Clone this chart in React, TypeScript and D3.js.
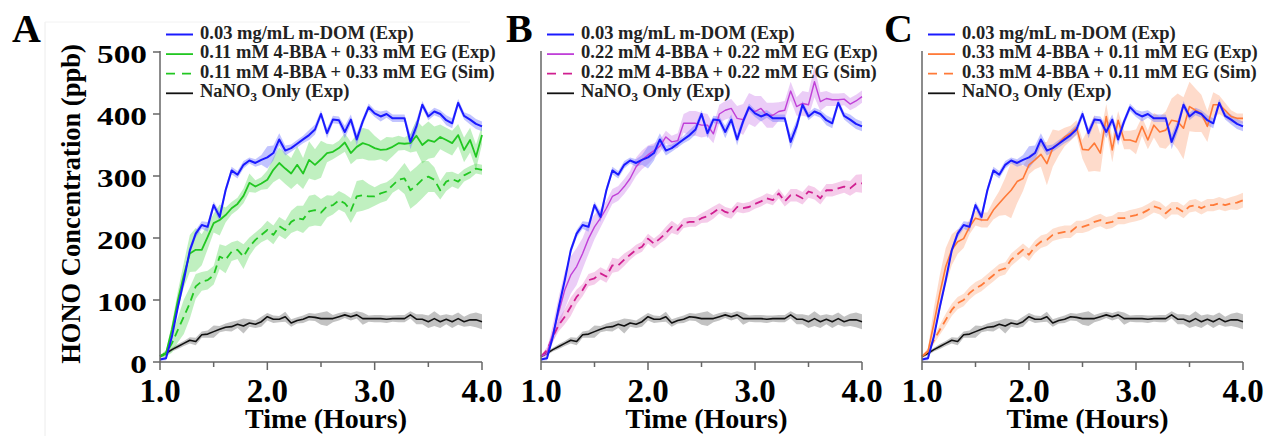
import React from "react";
import * as d3 from "d3";

// Sampling times (hours), one reading every 200 s
const TIME = [
  1.0, 1.056, 1.111, 1.167, 1.222, 1.278, 1.333, 1.389, 1.444, 1.5, 1.556,
  1.611, 1.667, 1.722, 1.778, 1.833, 1.889, 1.944, 2.0, 2.056, 2.111, 2.167,
  2.222, 2.278, 2.333, 2.389, 2.444, 2.5, 2.556, 2.611, 2.667, 2.722, 2.778,
  2.833, 2.889, 2.944, 3.0, 3.056, 3.111, 3.167, 3.222, 3.278, 3.333, 3.389,
  3.444, 3.5, 3.556, 3.611, 3.667, 3.722, 3.778, 3.833, 3.889, 3.944, 4.0,
];

// 0.03 mg/mL m-DOM (Exp)
const DOM = [
  4, 6, 41, 89, 132, 180, 207, 221, 218, 253, 234, 277, 309, 302, 318, 325,
  321, 326, 330, 337, 359, 341, 345, 352, 359, 366, 375, 400, 369, 391, 390,
  371, 391, 359, 388, 411, 401, 396, 400, 393, 393, 393, 355, 380, 415, 396,
  404, 400, 390, 385, 418, 397, 391, 384, 380,
];
const DOM_ERR = [
  2, 3, 4, 5, 5, 6, 6, 6, 8, 6, 8, 6, 6, 6, 6, 5, 6, 8, 18, 12, 10, 8, 6, 6,
  6, 8, 8, 6, 8, 6, 6, 10, 8, 10, 6, 6, 6, 8, 6, 6, 6, 6, 12, 10, 6, 6, 6, 6,
  8, 8, 6, 6, 8, 8, 8,
];

// NaNO3 only (Exp)
const NANO3 = [
  9, 14, 20, 25, 30, 35, 33, 44, 45, 49, 53, 56, 57, 61, 58, 63, 61, 65, 73,
  69, 69, 73, 63, 67, 69, 73, 72, 70, 70, 70, 73, 76, 73, 76, 70, 70, 70, 70,
  69, 70, 70, 70, 76, 69, 69, 65, 70, 65, 69, 65, 70, 65, 68, 68, 65,
];
const NANO3_ERR = [
  2, 3, 3, 4, 4, 5, 6, 5, 6, 10, 5, 6, 8, 6, 12, 6, 6, 8, 6, 6, 5, 8, 6, 5,
  6, 6, 6, 10, 12, 6, 6, 5, 6, 6, 10, 5, 6, 6, 6, 5, 6, 6, 6, 8, 8, 10, 12,
  10, 8, 10, 10, 8, 10, 12, 12,
];

// 0.11 mM 4-BBA + 0.33 mM EG
const BBA11_EXP = [
  9, 14, 52, 100, 140, 175, 181, 181, 202, 224, 229, 237, 248, 255, 268, 289,
  283, 288, 294, 310, 321, 312, 304, 318, 304, 326, 318, 327, 337, 339, 345,
  354, 337, 347, 353, 350, 345, 342, 343, 347, 353, 352, 353, 365, 350, 358,
  355, 363, 358, 353, 366, 342, 358, 331, 366,
];
const BBA11_EXP_ERR = [
  2, 4, 10, 15, 20, 30, 35, 25, 20, 15, 25, 12, 10, 10, 12, 15, 10, 10, 15,
  20, 25, 25, 25, 30, 25, 30, 25, 30, 15, 12, 12, 15, 18, 20, 25, 25, 20, 15,
  20, 15, 12, 10, 15, 25, 30, 30, 25, 20, 20, 20, 18, 20, 20, 20, 15,
];
const BBA11_SIM = [
  9, 14, 30, 52, 73, 95, 122, 130, 132, 140, 170, 165, 178, 181, 170, 186,
  197, 205, 213, 205, 219, 213, 226, 232, 230, 243, 245, 241, 251, 253, 261,
  256, 244, 267, 269, 267, 267, 272, 275, 285, 294, 296, 277, 285, 294, 299,
  294, 277, 291, 295, 291, 301, 306, 312, 310,
];
const BBA11_SIM_ERR = [
  2, 5, 15, 20, 28, 25, 20, 15, 15, 15, 20, 22, 15, 15, 20, 15, 12, 12, 15,
  15, 15, 15, 18, 20, 22, 25, 25, 22, 18, 15, 15, 15, 20, 25, 25, 20, 15, 15,
  15, 12, 15, 25, 30, 30, 30, 25, 20, 15, 15, 12, 12, 10, 10, 8, 8,
];

// 0.22 mM 4-BBA + 0.22 mM EG
const BBA22_EXP = [
  9, 14, 46, 81, 116, 140, 154, 175, 199, 218, 232, 248, 267, 272, 283, 296,
  315, 326, 334, 341, 348, 363, 355, 357, 385, 385, 385, 382, 382, 368, 400,
  406, 409, 393, 391, 409, 404, 409, 398, 398, 404, 406, 437, 412, 417, 415,
  452, 420, 425, 423, 423, 424, 416, 421, 428,
];
const BBA22_EXP_ERR = [
  2, 5, 15, 25, 30, 30, 30, 25, 25, 20, 15, 12, 12, 12, 12, 12, 15, 15, 15,
  12, 10, 10, 10, 12, 15, 20, 20, 20, 18, 15, 15, 15, 15, 20, 25, 25, 25, 20,
  20, 20, 15, 15, 15, 15, 20, 20, 25, 15, 12, 10, 10, 10, 10, 10, 10,
];
const BBA22_SIM = [
  9, 19, 41, 60, 73, 89, 105, 116, 132, 135, 143, 138, 156, 156, 165, 173,
  181, 186, 199, 191, 199, 208, 218, 213, 224, 226, 226, 232, 235, 241, 248,
  242, 239, 250, 248, 250, 255, 259, 264, 261, 272, 259, 269, 269, 264, 275,
  272, 264, 277, 277, 280, 283, 280, 288, 288,
];
const BBA22_SIM_ERR = [
  2, 5, 8, 10, 12, 15, 12, 10, 10, 10, 10, 10, 12, 10, 10, 8, 8, 8, 8, 8, 8,
  10, 10, 8, 8, 8, 8, 8, 10, 10, 8, 8, 8, 8, 8, 8, 8, 8, 8, 8, 8, 8, 10, 10,
  10, 10, 10, 10, 10, 10, 10, 10, 12, 14, 15,
];

// 0.33 mM 4-BBA + 0.11 mM EG
const BBA33_EXP = [
  9, 17, 62, 111, 154, 181, 194, 199, 218, 232, 229, 229, 245, 256, 267, 277,
  291, 296, 318, 326, 335, 320, 345, 353, 363, 369, 378, 343, 342, 353, 337,
  396, 342, 390, 358, 358, 355, 380, 358, 382, 371, 374, 390, 388, 377, 412,
  406, 401, 380, 415, 415, 406, 396, 393, 393,
];
const BBA33_EXP_ERR = [
  2, 5, 25, 30, 30, 25, 20, 15, 12, 12, 12, 12, 15, 20, 30, 45, 35, 20, 15,
  15, 20, 35, 30, 20, 15, 12, 12, 15, 35, 45, 30, 20, 20, 15, 15, 15, 20, 15,
  15, 20, 25, 30, 35, 45, 50, 40, 35, 30, 25, 20, 15, 12, 10, 8, 8,
];
const BBA33_SIM = [
  9, 17, 35, 52, 68, 84, 95, 100, 111, 119, 124, 132, 140, 148, 151, 165, 173,
  181, 173, 186, 194, 197, 205, 208, 210, 210, 218, 218, 221, 226, 229, 224,
  226, 232, 232, 235, 237, 240, 245, 251, 248, 240, 248, 248, 242, 251, 253,
  248, 253, 253, 256, 253, 256, 257, 261,
];
const BBA33_SIM_ERR = [
  2, 4, 6, 8, 10, 10, 10, 10, 10, 10, 10, 10, 10, 10, 10, 10, 10, 10, 10, 10,
  10, 10, 10, 10, 10, 10, 10, 10, 10, 10, 10, 10, 10, 10, 10, 10, 10, 10, 10,
  10, 10, 10, 10, 10, 10, 10, 10, 10, 10, 10, 10, 10, 10, 12, 12,
];

// Axis ticks
const X_TICKS = [1, 2, 3, 4];
const X_MINOR = [1.5, 2.5, 3.5];
const Y_TICKS = [0, 100, 200, 300, 400, 500];

const PANEL_LETTERS = ["A", "B", "C"];
const DOM_LABEL = "0.03 mg/mL m-DOM (Exp)";
const MIX_LABELS = [
  "0.11 mM 4-BBA + 0.33 mM EG",
  "0.22 mM 4-BBA + 0.22 mM EG",
  "0.33 mM 4-BBA + 0.11 mM EG",
];

type Series = {
  values: number[];
  err: number[];
  color: string;
  band: string;
  width: number;
  dashed?: boolean;
};

const FONT = "'Liberation Serif', 'Times New Roman', Times, serif";

const BLUE = "#1a1aff";
const BLACK = "#111111";

const domSeries: Series = {
  values: DOM,
  err: DOM_ERR,
  color: BLUE,
  band: "rgba(120,125,255,0.45)",
  width: 2,
};
const nano3Series: Series = {
  values: NANO3,
  err: NANO3_ERR,
  color: BLACK,
  band: "rgba(120,120,120,0.45)",
  width: 1.6,
};

const panels = [
  {
    x0: 160,
    x1: 482,
    exp: { values: BBA11_EXP, err: BBA11_EXP_ERR, color: "#22c722", band: "rgba(90,215,90,0.38)", width: 1.8 },
    sim: { values: BBA11_SIM, err: BBA11_SIM_ERR, color: "#22c722", band: "rgba(90,215,90,0.38)", width: 1.8, dashed: true },
  },
  {
    x0: 541,
    x1: 862,
    exp: { values: BBA22_EXP, err: BBA22_EXP_ERR, color: "#c040d8", band: "rgba(205,130,235,0.4)", width: 1.4 },
    sim: { values: BBA22_SIM, err: BBA22_SIM_ERR, color: "#d01f90", band: "rgba(230,120,200,0.38)", width: 1.8, dashed: true },
  },
  {
    x0: 922,
    x1: 1243,
    exp: { values: BBA33_EXP, err: BBA33_EXP_ERR, color: "#ff7a38", band: "rgba(252,170,130,0.42)", width: 1.6 },
    sim: { values: BBA33_SIM, err: BBA33_SIM_ERR, color: "#ff7a38", band: "rgba(252,170,130,0.38)", width: 1.8, dashed: true },
  },
];

const Y_TOP = 52;
const Y_BOTTOM = 362;
const AXIS = "#666666";

function Panel({ idx }: { idx: number }) {
  const p = panels[idx];
  const x = d3.scaleLinear().domain([1, 4]).range([p.x0, p.x1]);
  const y = d3.scaleLinear().domain([0, 500]).range([Y_BOTTOM, Y_TOP]);

  const line = (s: Series) =>
    d3
      .line<number>()
      .x((_, i) => x(TIME[i]))
      .y((v) => y(v))(s.values) || "";
  const area = (s: Series) =>
    d3
      .area<number>()
      .x((_, i) => x(TIME[i]))
      .y0((v, i) => y(v - s.err[i]))
      .y1((v, i) => y(v + s.err[i]))(s.values) || "";

  const order: Series[] = [nano3Series, p.sim, p.exp, domSeries];

  const legend = [
    { label: DOM_LABEL, s: domSeries },
    { label: `${MIX_LABELS[idx]} (Exp)`, s: p.exp as Series },
    { label: `${MIX_LABELS[idx]} (Sim)`, s: p.sim as Series },
    { label: "NaNO3", s: nano3Series },
  ];

  const lx = p.x0 + 6;
  const midX = (p.x0 + p.x1) / 2 + 5;

  return (
    <g>
      {/* error bands */}
      {order.map((s, i) => (
        <path key={"b" + i} d={area(s)} fill={s.band} stroke="none" />
      ))}
      {/* mean lines */}
      {order.map((s, i) => (
        <path
          key={"l" + i}
          d={line(s)}
          fill="none"
          stroke={s.color}
          strokeWidth={s.width}
          strokeDasharray={s.dashed ? "8,5" : undefined}
          strokeLinejoin="round"
        />
      ))}

      {/* axes */}
      <line x1={p.x0} x2={p.x0} y1={Y_TOP - 1} y2={Y_BOTTOM} stroke={AXIS} strokeWidth={1.5} />
      <line x1={p.x0} x2={p.x1} y1={Y_BOTTOM} y2={Y_BOTTOM} stroke={AXIS} strokeWidth={1.5} />
      {X_TICKS.map((t) => (
        <g key={"xt" + t}>
          <line x1={x(t)} x2={x(t)} y1={Y_BOTTOM} y2={Y_BOTTOM + 8} stroke={AXIS} strokeWidth={1.5} />
          <text
            x={x(t)}
            y={402}
            textAnchor="middle"
            fontFamily={FONT}
            fontWeight="bold"
            fontSize={33}
            fill="#000"
          >
            {t.toFixed(1)}
          </text>
        </g>
      ))}
      {X_MINOR.map((t) => (
        <line key={"xm" + t} x1={x(t)} x2={x(t)} y1={Y_BOTTOM} y2={Y_BOTTOM + 5} stroke={AXIS} strokeWidth={1.5} />
      ))}
      {idx === 0 &&
        Y_TICKS.map((t) => (
          <g key={"yt" + t}>
            <line x1={p.x0 - 7} x2={p.x0} y1={y(t)} y2={y(t)} stroke={AXIS} strokeWidth={1.5} />
            <text
              transform={`translate(${p.x0 - 13},${y(t) + 11}) scale(1.28,1)`}
              textAnchor="end"
              fontFamily={FONT}
              fontWeight="bold"
              fontSize={26}
              fill="#000"
            >
              {t}
            </text>
          </g>
        ))}

      <text
        x={midX}
        y={428}
        textAnchor="middle"
        fontFamily={FONT}
        fontWeight="bold"
        fontSize={28}
        fill="#000"
      >
        Time (Hours)
      </text>

      {/* legend */}
      {legend.map((it, i) => {
        const by = 38.5 + i * 19.6;
        return (
          <g key={"lg" + i}>
            <line
              x1={lx}
              x2={lx + 27}
              y1={by - 4}
              y2={by - 4}
              stroke={it.s.color}
              strokeWidth={it.s === domSeries ? 2 : 1.8}
              strokeDasharray={it.s.dashed ? "9,7" : undefined}
            />
            <text x={p.x0 + 40} y={by} fontFamily={FONT} fontWeight="bold" fontSize={18.5} fill="#222">
              {i === 3 ? (
                <>
                  NaNO
                  <tspan fontSize={13} dy={4}>3</tspan>
                  <tspan dy={-4}> Only (Exp)</tspan>
                </>
              ) : (
                it.label
              )}
            </text>
          </g>
        );
      })}
    </g>
  );
}

export default function App() {
  const letterX = [12, 506, 884];
  return (
    <svg
      width={1266}
      height={436}
      style={{ position: "absolute", left: 0, top: 0, background: "#fff" }}
    >
      <rect x={0} y={0} width={1266} height={436} fill="#fff" />
      <line x1={45} x2={45} y1={22} y2={436} stroke="#ececec" strokeWidth={1} />
      <line x1={45} x2={470} y1={22} y2={22} stroke="#f2f2f2" strokeWidth={1} />
      {PANEL_LETTERS.map((L, i) => (
        <text
          key={L}
          x={letterX[i]}
          y={42}
          fontFamily={FONT}
          fontWeight="bold"
          fontSize={40}
          fill="#000"
        >
          {L}
        </text>
      ))}
      <text
        transform="translate(80,204) rotate(-90)"
        textAnchor="middle"
        fontFamily={FONT}
        fontWeight="bold"
        fontSize={26.5}
        fill="#000"
      >
        HONO Concentration (ppb)
      </text>
      {panels.map((_, i) => (
        <Panel key={i} idx={i} />
      ))}
    </svg>
  );
}
